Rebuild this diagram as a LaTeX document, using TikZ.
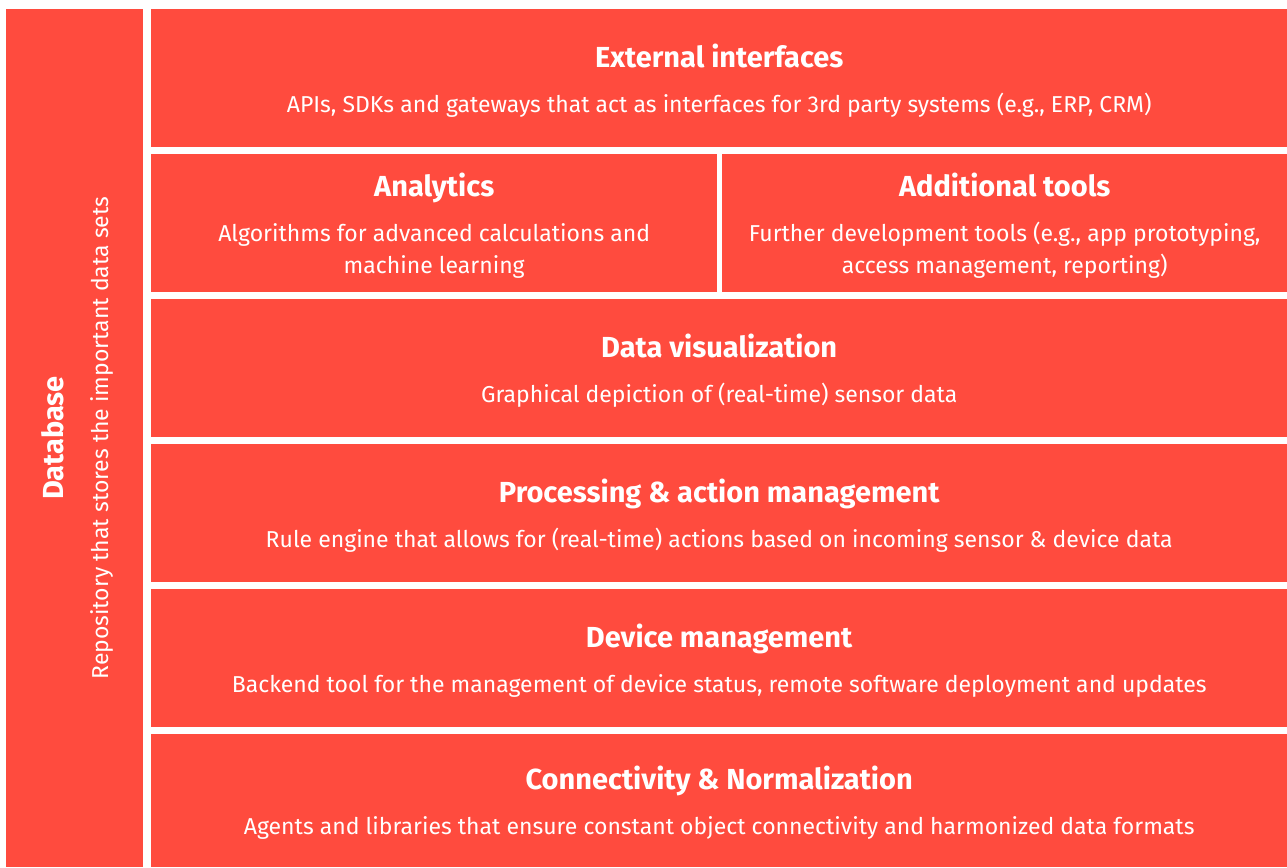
\documentclass[tikz,border=0pt]{standalone}
\usepackage{fontspec}
\setmainfont{Fira Sans}
\usepackage{tikz}
\usetikzlibrary{positioning}
\definecolor{capa}{RGB}{255,75,62}

\tikzset{
  capa/.style={fill=capa, draw=none, anchor=north west, inner sep=0pt,
    align=center, text=white, font=\fontsize{23}{32}\selectfont},
}
\newcommand{\titulo}[1]{{\fontsize{29}{32}\selectfont\bfseries\rule{0pt}{28pt}#1}\\[13pt]}

\begin{document}
\begin{tikzpicture}[x=1pt,y=-1pt]
%fondo blanco y medidas del dibujo
\fill[white] (0,0) rectangle (1287,867);
\useasboundingbox (0,0) rectangle (1287,867);

%columna de la base de datos
\node[capa, anchor=center, rotate=90, minimum width=858, minimum height=137]
  (db) at (74.5,438) {\titulo{Database}Repository that stores the important data sets};

%capas que ocupan todo el ancho
\foreach \y/\nombre/\tit/\sub in {
  9/ext/{External interfaces}/{APIs, SDKs and gateways that act as interfaces for 3rd party systems (e.g., ERP, CRM)},
  299/vis/{Data visualization}/{Graphical depiction of (real-time) sensor data},
  444/proc/{Processing \& action management}/{Rule engine that allows for (real-time) actions based on incoming sensor \& device data},
  589/dev/{Device management}/{Backend tool for the management of device status, remote software deployment and updates}}
  \node[capa, minimum width=1136, minimum height=138] (\nombre) at (151,\y) {\titulo{\tit}\sub};

%capa de abajo
\node[capa, minimum width=1136, minimum height=133] (con) at (151,734)
  {\titulo{Connectivity \& Normalization}Agents and libraries that ensure constant object connectivity and harmonized data formats};

%capa partida en dos
\node[capa, minimum width=566, minimum height=138] (ana) at (151,154)
  {\titulo{Analytics}Algorithms for advanced calculations and\\machine learning};
\node[capa, minimum width=565, minimum height=138] (tools) at (722,154)
  {\titulo{Additional tools}Further development tools (e.g., app prototyping,\\access management, reporting)};
\end{tikzpicture}
\end{document}
